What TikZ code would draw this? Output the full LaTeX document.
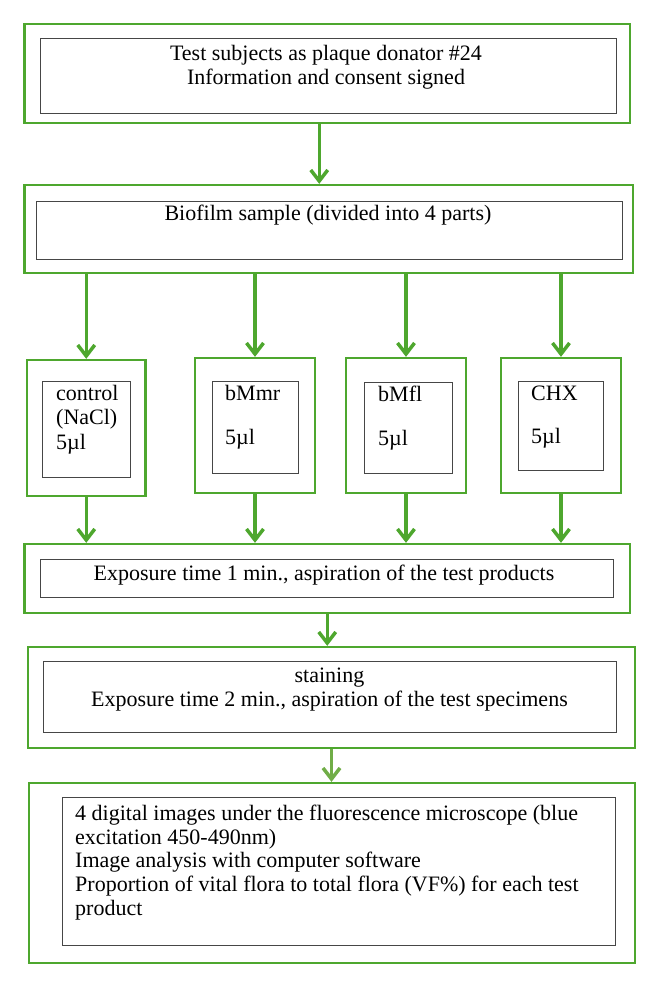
\documentclass[tikz,border=0pt]{standalone}
\usepackage{fontspec}
\setmainfont{Liberation Serif}
\usetikzlibrary{arrows.meta, positioning}
\definecolor{flowGreen}{RGB}{78,167,46}
\definecolor{flowLight}{RGB}{112,173,71}
\definecolor{boxGray}{RGB}{70,70,70}

\begin{document}
\begin{tikzpicture}[x=1pt, y=-1pt,
  outer/.style={draw=flowGreen, line width=2.3pt, inner sep=0pt},
  inner/.style={draw=boxGray, line width=0.9pt, inner sep=0pt},
  txt/.style={inner sep=0pt, anchor=north, align=center, font=\fontsize{22}{23.8}\selectfont},
  txtl/.style={inner sep=0pt, anchor=north west, align=left, font=\fontsize{22}{23.8}\selectfont},
  flow/.style={draw=flowGreen, line width=3.5pt, -{Straight Barb[length=11pt, width=17pt]}}]
  \useasboundingbox (0,0) rectangle (661,991);
  % Donor
  \node[outer, minimum width=605.5pt, minimum height=99pt] (top) at (327.25,73.5) {};
  \node[inner, minimum width=576pt, minimum height=75pt] (topIn) at (328.5,75.5) {};
  \node[txt] (topTxt) at (326,45) {Test subjects as plaque donator \#24\\[0.6pt]Information and consent signed};
  % Biofilm sample
  \node[outer, minimum width=608.5pt, minimum height=88pt] (bio) at (328.75,229) {};
  \node[inner, minimum width=586pt, minimum height=58pt] (bioIn) at (329,230) {};
  \node[txt] (bioTxt) at (328,205) {Biofilm sample (divided into 4 parts)};
  % Four test products
  \node[outer, minimum width=118.5pt, minimum height=136pt] (sA) at (86.25,428) {};
  \node[inner, minimum width=88pt, minimum height=96pt] (sAin) at (86,429) {};
  \node[txtl] (sAtxt) at (56,385) {control\\[0.5pt](NaCl)\\[0.5pt]5µl};
  \node[outer, minimum width=120pt, minimum height=135pt] (sB) at (255,425.5) {};
  \node[inner, minimum width=86pt, minimum height=92pt] (sBin) at (255,427) {};
  \node[txtl] (sBtxt) at (225,385) {bMmr\\[20pt]5µl};
  \node[outer, minimum width=120pt, minimum height=135pt] (sC) at (406,425.5) {};
  \node[inner, minimum width=88pt, minimum height=91pt] (sCin) at (408,427.5) {};
  \node[txtl] (sCtxt) at (378,386) {bMfl\\[20pt]5µl};
  \node[outer, minimum width=120pt, minimum height=135pt] (sD) at (561,425.5) {};
  \node[inner, minimum width=85pt, minimum height=89pt] (sDin) at (560.5,425.5) {};
  \node[txtl] (sDtxt) at (531,385.4) {CHX\\[20pt]5µl};
  % Exposure
  \node[outer, minimum width=605.5pt, minimum height=69pt] (expo) at (327.25,578.5) {};
  \node[inner, minimum width=573pt, minimum height=38pt] (expoIn) at (326.5,578) {};
  \node[txt] (expoTxt) at (324,565) {Exposure time 1 min., aspiration of the test products};
  % Staining
  \node[outer, minimum width=607pt, minimum height=101pt] (stain) at (331.5,697.5) {};
  \node[inner, minimum width=573pt, minimum height=71pt] (stainIn) at (329.5,696.5) {};
  \node[txt] (stainTxt) at (329.5,667.5) {staining\\[0.7pt]Exposure time 2 min., aspiration of the test specimens};
  % Imaging
  \node[outer, minimum width=606pt, minimum height=180pt] (imag) at (332,873) {};
  \node[inner, minimum width=553pt, minimum height=148pt] (imagIn) at (338.5,871) {};
  \node[txtl] (imagTxt) at (75,804.5) {4 digital images under the fluorescence microscope (blue\\excitation 450-490nm)\\Image analysis with computer software\\Proportion of vital flora to total flora (VF\%) for each test\\product};
  % Arrows
  \draw[flow] ([xshift=-8pt]top.south) -- ([xshift=-8pt]top.south |- bio.north);
  \draw[flow] (sA.north |- bio.south) -- (sA.north);
  \draw[flow] (sB.north |- bio.south) -- (sB.north);
  \draw[flow] (sC.north |- bio.south) -- (sC.north);
  \draw[flow] (sD.north |- bio.south) -- (sD.north);
  \draw[flow] (sA.south) -- (sA.south |- expo.north);
  \draw[flow] (sB.south) -- (sB.south |- expo.north);
  \draw[flow] (sC.south) -- (sC.south |- expo.north);
  \draw[flow] (sD.south) -- (sD.south |- expo.north);
  \draw[flow] (expo.south) -- (expo.south |- stain.north);
  \draw[flow, draw=flowLight] (stain.south) -- (stain.south |- imag.north);
\end{tikzpicture}
\end{document}
